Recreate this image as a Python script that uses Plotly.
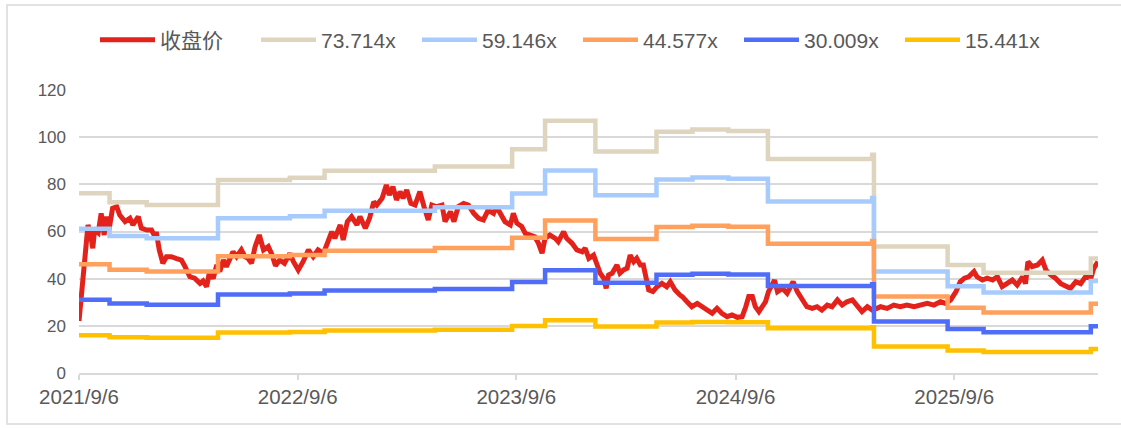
import plotly.graph_objects as go

# ---------------- data ----------------
close_dates = [
    "2021-09-06", "2021-09-10", "2021-09-14", "2021-09-17", "2021-09-21", "2021-09-25", "2021-09-29",
    "2021-10-02", "2021-10-08", "2021-10-13", "2021-10-18", "2021-10-22", "2021-10-26", "2021-11-01",
    "2021-11-08", "2021-11-13", "2021-11-22", "2021-11-30", "2021-12-05", "2021-12-14", "2021-12-19",
    "2021-12-28", "2022-01-05", "2022-01-11", "2022-01-13", "2022-01-18", "2022-01-24", "2022-01-30",
    "2022-02-07", "2022-02-16", "2022-02-24", "2022-03-02", "2022-03-10", "2022-03-18", "2022-03-27",
    "2022-04-01", "2022-04-07", "2022-04-12", "2022-04-18", "2022-04-24", "2022-04-29", "2022-05-05",
    "2022-05-10", "2022-05-16", "2022-05-21", "2022-05-27", "2022-06-04", "2022-06-10", "2022-06-15",
    "2022-06-21", "2022-06-27", "2022-07-04", "2022-07-11", "2022-07-19", "2022-07-25", "2022-07-31",
    "2022-08-07", "2022-08-15", "2022-08-24", "2022-08-30", "2022-09-07", "2022-09-15", "2022-09-24",
    "2022-10-02", "2022-10-10", "2022-10-19", "2022-10-27", "2022-11-02", "2022-11-07", "2022-11-16",
    "2022-11-21", "2022-11-28", "2022-12-05", "2022-12-14", "2022-12-19", "2022-12-28", "2023-01-04",
    "2023-01-11", "2023-01-16", "2023-01-25", "2023-02-01", "2023-02-06", "2023-02-12", "2023-02-18",
    "2023-02-24", "2023-03-01", "2023-03-07", "2023-03-14", "2023-03-21", "2023-03-29", "2023-04-05",
    "2023-04-12", "2023-04-18", "2023-04-26", "2023-05-05", "2023-05-10", "2023-05-19", "2023-05-25",
    "2023-06-01", "2023-06-10", "2023-06-18", "2023-06-27", "2023-07-05", "2023-07-13", "2023-07-21",
    "2023-07-30", "2023-08-04", "2023-08-13", "2023-08-18", "2023-08-27", "2023-09-01", "2023-09-07",
    "2023-09-15", "2023-09-21", "2023-09-29", "2023-10-07", "2023-10-13", "2023-10-19", "2023-10-24",
    "2023-11-01", "2023-11-10", "2023-11-15", "2023-11-24", "2023-11-29", "2023-12-08", "2023-12-16",
    "2023-12-25", "2023-12-30", "2024-01-05", "2024-01-13", "2024-01-19", "2024-01-24", "2024-01-30",
    "2024-02-03", "2024-02-07", "2024-02-13", "2024-02-21", "2024-02-26", "2024-03-03", "2024-03-09",
    "2024-03-14", "2024-03-20", "2024-03-25", "2024-03-31", "2024-04-05", "2024-04-10", "2024-04-14",
    "2024-04-21", "2024-04-28", "2024-05-06", "2024-05-14", "2024-05-20", "2024-05-28", "2024-06-05",
    "2024-06-09", "2024-06-17", "2024-06-25", "2024-07-04", "2024-07-12", "2024-07-21", "2024-07-29",
    "2024-08-06", "2024-08-14", "2024-08-23", "2024-08-31", "2024-09-09", "2024-09-17", "2024-09-23",
    "2024-09-28", "2024-10-04", "2024-10-09", "2024-10-15", "2024-10-20", "2024-10-26", "2024-10-31",
    "2024-11-06", "2024-11-10", "2024-11-15", "2024-11-23", "2024-12-01", "2024-12-07", "2024-12-11",
    "2024-12-18", "2024-12-26", "2025-01-03", "2025-01-12", "2025-01-20", "2025-01-28", "2025-02-06",
    "2025-02-14", "2025-02-23", "2025-03-03", "2025-03-11", "2025-03-20", "2025-03-28", "2025-04-05",
    "2025-04-14", "2025-04-22", "2025-04-30", "2025-05-06", "2025-05-17", "2025-05-28", "2025-06-08",
    "2025-06-19", "2025-07-01", "2025-07-12", "2025-07-23", "2025-08-03", "2025-08-14", "2025-08-23",
    "2025-08-31", "2025-09-09", "2025-09-16", "2025-09-23", "2025-09-30", "2025-10-09", "2025-10-14",
    "2025-10-23", "2025-10-31", "2025-11-09", "2025-11-17", "2025-11-25", "2025-12-04", "2025-12-12",
    "2025-12-20", "2025-12-29", "2026-01-03", "2026-01-07", "2026-01-14", "2026-01-23", "2026-01-31",
    "2026-02-06", "2026-02-14", "2026-02-22", "2026-03-03", "2026-03-11", "2026-03-19", "2026-03-28",
    "2026-04-05", "2026-04-13", "2026-04-22", "2026-04-27", "2026-05-04",
]
close_prices = [
    22.0, 32.4, 40.8, 52.0, 62.8, 59.4, 52.9,
    60.6, 59.4, 67.7, 58.5, 66.3, 60.6, 69.8,
    70.5, 67.0, 64.2, 65.6, 62.8, 66.3, 61.4,
    60.6, 60.6, 57.8, 59.8, 52.2, 46.5, 49.3,
    49.3, 48.5, 47.9, 45.1, 40.8, 40.2, 38.0,
    39.0, 36.6, 43.0, 40.0, 45.8, 43.0, 47.9,
    45.1, 48.5, 51.4, 49.3, 52.2, 49.3, 48.6,
    46.5, 53.6, 58.5, 52.2, 53.6, 50.3, 45.5,
    47.9, 46.5, 50.7, 47.2, 43.7, 47.2, 52.2,
    49.3, 52.2, 50.7, 55.7, 59.9, 57.1, 62.8,
    56.4, 64.2, 66.3, 62.8, 66.3, 61.4, 65.6,
    72.6, 71.2, 74.1, 79.7, 75.5, 79.0, 73.4,
    76.9, 74.1, 77.6, 71.9, 71.2, 76.9, 70.5,
    64.9, 71.2, 70.5, 71.2, 64.2, 68.4, 64.2,
    70.5, 71.9, 71.2, 67.7, 65.6, 64.9, 69.1,
    67.7, 70.5, 66.3, 64.2, 62.8, 67.7, 63.5,
    62.1, 59.2, 58.5, 57.8, 55.0, 50.8, 57.1,
    58.5, 57.1, 55.7, 59.9, 57.1, 55.0, 52.2,
    51.4, 52.9, 48.6, 50.0, 45.8, 42.3, 40.2,
    35.9, 41.6, 42.3, 45.8, 42.3, 43.7, 44.4,
    50.0, 47.2, 48.6, 45.8, 45.8, 40.8, 35.2,
    34.5, 36.6, 38.0, 36.6, 38.7, 35.2, 33.1,
    32.4, 30.2, 28.1, 29.5, 28.1, 26.7, 25.3,
    27.4, 25.3, 23.9, 24.6, 23.6, 23.9, 28.1,
    32.4, 32.4, 28.1, 26.0, 28.1, 30.2, 34.5,
    37.3, 39.4, 34.5, 35.9, 33.8, 37.3, 38.7,
    34.5, 31.7, 28.1, 27.4, 28.1, 26.7, 28.8,
    28.1, 31.0, 28.8, 30.2, 31.0, 28.1, 26.0,
    28.1, 26.7, 27.4, 28.1, 27.4, 28.8, 28.1,
    28.8, 28.1, 28.8, 29.5, 28.8, 30.2, 29.5,
    31.0, 34.5, 38.7, 40.2, 40.8, 43.0, 40.8,
    39.4, 40.2, 39.4, 40.8, 36.6, 37.9, 39.4,
    37.3, 40.8, 37.9, 47.2, 45.1, 45.8, 47.9,
    43.7, 41.6, 40.2, 37.9, 36.6, 35.9, 38.7,
    37.9, 40.8, 40.2, 44.4, 47.2,
]

# per-share earnings steps used for the PE bands (start date of each step)
eps_dates = [
    "2021-09-06", "2021-10-27", "2021-12-28", "2022-04-26", "2022-08-24", "2022-10-21",
    "2023-04-23", "2023-08-30", "2023-10-24", "2024-01-16", "2024-04-27", "2024-06-26",
    "2024-08-25", "2024-10-30", "2025-04-22", "2025-04-25", "2025-08-26", "2025-10-25",
    "2026-04-22", "2026-05-04",
]
eps_values = [
    1.0337, 0.9822, 0.9659, 1.1097, 1.1233, 1.1640,
    1.1884, 1.2874, 1.4516, 1.2738, 1.3878, 1.4014,
    1.3919, 1.2304, 1.2548, 0.7271, 0.6213, 0.5766,
    0.6593, 0.6593,
]

band_names = ["73.714x", "59.146x", "44.577x", "30.009x", "15.441x"]
band_multiples = [73.714, 59.146, 44.577, 30.009, 15.441]

tick_dates = ["2021-09-06", "2022-09-06", "2023-09-06", "2024-09-06", "2025-09-06"]
tick_labels = ["2021/9/6", "2022/9/6", "2023/9/6", "2024/9/6", "2025/9/6"]

# ---------------- style ----------------
close_color = "#E3231B"
band_colors = ["#DFD5BF", "#A7CBFD", "#FFA05C", "#4F6DF9", "#FFC000"]
grid_color = "#D9D9D9"
text_color = "#595959"
font_family = "Arial, 'Liberation Sans', 'Noto Sans CJK SC', sans-serif"

W, H = 1121, 428
ML, MR, MT, MB = 79, 23, 90, 55

fig = go.Figure()
fig.add_trace(go.Scatter(
    x=close_dates, y=close_prices, name="收盘价", mode="lines",
    line=dict(color=close_color, width=5)))

for name, mult, col in zip(band_names, band_multiples, band_colors):
    fig.add_trace(go.Scatter(
        x=eps_dates, y=[e * mult for e in eps_values], name=name, mode="lines",
        line=dict(color=col, width=4.5, shape="hv")))

pw = W - ML - MR
ph = H - MT - MB
def px_x(p):
    return (p - ML) / pw
def px_y(p):
    return (H - MB - p) / ph

# light outer frame of the chart area
fig.add_shape(type="rect", xref="paper", yref="paper",
              x0=px_x(7), x1=px_x(1130), y0=px_y(424), y1=px_y(5),
              line=dict(color=grid_color, width=1.5), fillcolor="rgba(0,0,0,0)",
              layer="below")

fig.update_layout(
    template="none",
    width=W, height=H,
    margin=dict(l=ML, r=MR, t=MT, b=MB, autoexpand=False),
    paper_bgcolor="white", plot_bgcolor="white",
    font=dict(family=font_family, color=text_color, size=17),
    showlegend=True,
    legend=dict(
        orientation="h", xref="container", yref="container",
        x=95 / W, xanchor="left", y=1 - 40 / H, yanchor="middle",
        itemwidth=55, entrywidth=91, entrywidthmode="pixels",
        font=dict(size=21, color=text_color),
        bgcolor="rgba(0,0,0,0)", borderwidth=0, tracegroupgap=0,
    ),
    xaxis=dict(
        type="date", range=["2021-09-06", "2026-05-04"],
        tickvals=tick_dates, ticktext=tick_labels,
        showgrid=False, zeroline=False, automargin=False,
        showline=True, linecolor=grid_color, linewidth=1.5,
        ticks="outside", ticklen=5, tickcolor=grid_color, tickwidth=1.5,
        tickfont=dict(size=20.5, color=text_color),
    ),
    yaxis=dict(
        range=[0, 120], tickvals=[0, 20, 40, 60, 80, 100, 120],
        showgrid=True, gridcolor=grid_color, gridwidth=1.5,
        zeroline=False, showline=False, ticks="", automargin=False,
        ticklabelstandoff=12,
        tickfont=dict(size=17, color=text_color),
    ),
)

fig.write_html("out.html",
               config={"displayModeBar": False},
               post_script="document.body.style.margin='0';document.body.style.overflow='hidden';")
